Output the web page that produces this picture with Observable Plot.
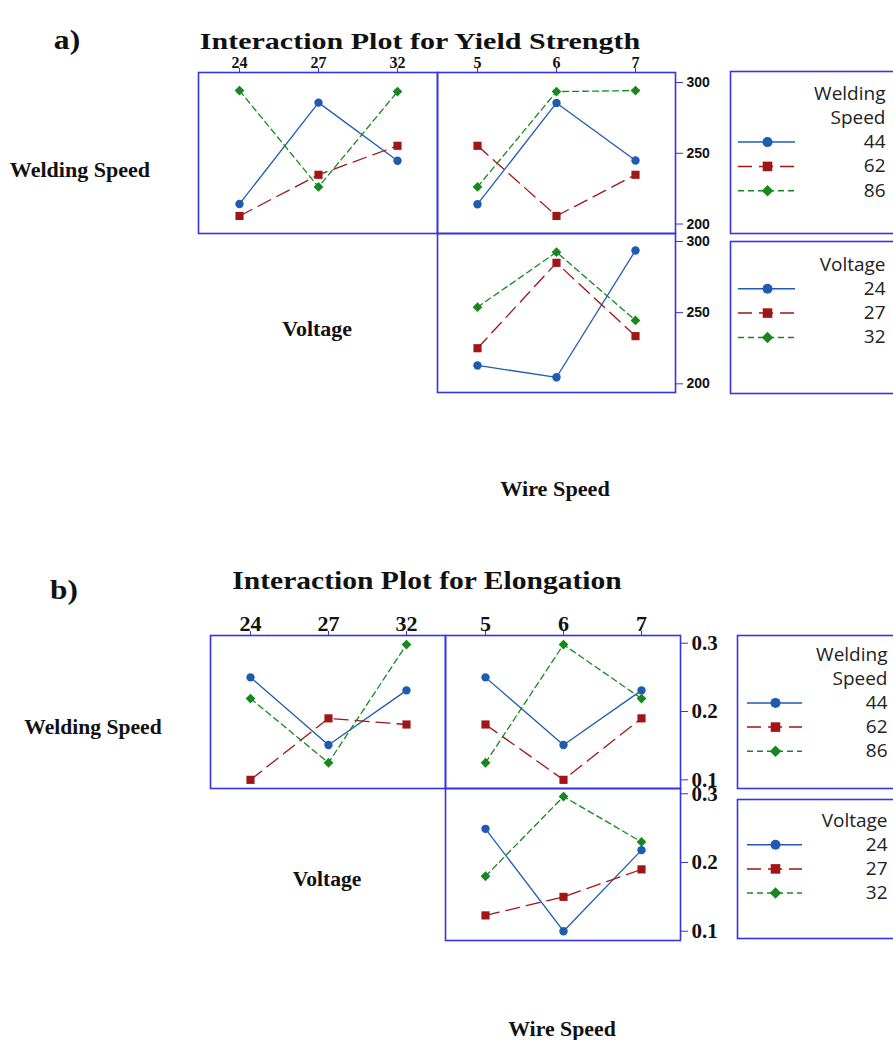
<!DOCTYPE html>
<html><head><meta charset="utf-8">
<script src="https://cdn.jsdelivr.net/npm/d3@7"></script>
<script src="https://cdn.jsdelivr.net/npm/@observablehq/plot@0.6"></script>
<style>
html,body{margin:0;padding:0;background:#fff;}
#root{position:relative;width:893px;height:1040px;overflow:hidden;background:#fff;}
.lbl{position:absolute;font-family:"Liberation Serif","Times New Roman",serif;font-weight:bold;color:#111;white-space:nowrap;line-height:1;}
svg{overflow:visible;}
</style></head><body><div id="root"></div>
<script>
// ---- factor levels ----
const voltageLevels = [24, 27, 32];
const wireSpeedLevels = [5, 6, 7];
const weldingSpeedLevels = [44, 62, 86];

// ---- (a) Yield strength: mean values ----
// Welding Speed series vs Voltage
const ysWeld44ByVolt = [214.2, 285.8, 244.7];
const ysWeld62ByVolt = [205.7, 234.8, 255.3];
const ysWeld86ByVolt = [294.3, 226.2, 293.6];
// Welding Speed series vs Wire Speed
const ysWeld44ByWire = [214.0, 285.6, 244.9];
const ysWeld62ByWire = [255.3, 205.7, 234.8];
const ysWeld86ByWire = [226.2, 293.6, 294.3];
// Voltage series vs Wire Speed
const ysVolt24ByWire = [212.9, 204.6, 293.7];
const ysVolt27ByWire = [225.0, 285.0, 233.5];
const ysVolt32ByWire = [253.8, 292.5, 244.5];
const ysTicks = [200, 250, 300];

// ---- (b) Elongation: mean values ----
const elWeld44ByVolt = [0.250, 0.151, 0.231];
const elWeld62ByVolt = [0.100, 0.190, 0.181];
const elWeld86ByVolt = [0.219, 0.125, 0.298];
const elWeld44ByWire = [0.250, 0.151, 0.231];
const elWeld62ByWire = [0.181, 0.100, 0.190];
const elWeld86ByWire = [0.125, 0.298, 0.219];
const elVolt24ByWire = [0.249, 0.100, 0.218];
const elVolt27ByWire = [0.123, 0.150, 0.190];
const elVolt32ByWire = [0.180, 0.296, 0.230];
const elTicks = [0.1, 0.2, 0.3];

// ---- styles ----
const FRAME = "#3535e6";
const seriesStyles = [
  {color: "#1f5cb0", dash: null, symbol: "circle", r: 4.2},
  {color: "#a01515", dash: "14,7", symbol: "square", r: 4.6},
  {color: "#17881f", dash: "6,4", symbol: "diamond2", r: 4.4}
];
const SERIF = "Liberation Serif, Times New Roman, serif";
const SANS = "Liberation Sans, Arial, sans-serif";

const root = document.getElementById("root");

function label(text, x, y, size, targetWidth) {
  const d = document.createElement("div");
  d.className = "lbl";
  d.textContent = text;
  d.style.left = x + "px"; d.style.top = y + "px"; d.style.fontSize = size + "px";
  root.append(d);
  const k = targetWidth ? targetWidth / d.offsetWidth : 1;
  d.style.transform = `translate(-50%,-50%) scaleX(${k})`;
}

function panel(o) {
  const mT = o.topAxis ? 40 : 2, mR = o.rightAxis ? 70 : 2, mL = 2, mB = 2;
  const marks = [Plot.frame({stroke: FRAME, strokeWidth: 1.6})];
  if (o.topAxis) marks.push(Plot.axisX({anchor: "top", tickSize: 5, tickPadding: 0, stroke: FRAME, fill: "#111",
    fontSize: o.topFont, fontFamily: SERIF, fontWeight: "bold", label: null}));
  if (o.rightAxis) marks.push(Plot.axisY({anchor: "right", ticks: o.yTicks, tickSize: 7, tickPadding: 4,
    tickFormat: o.yFormat, stroke: FRAME, fill: "#111", fontSize: o.rightFont, fontFamily: o.rightFamily,
    fontWeight: "bold", label: null}));
  o.series.forEach((vals, i) => {
    const st = seriesStyles[i];
    const d = vals.map((v, j) => ({x: o.xLevels[j], y: v}));
    marks.push(Plot.line(d, {x: "x", y: "y", stroke: st.color, strokeWidth: 1.3, strokeDasharray: st.dash}));
    marks.push(Plot.dot(d, {x: "x", y: "y", symbol: st.symbol, r: st.r, fill: st.color, stroke: "none"}));
  });
  const svg = Plot.plot({
    width: o.w + mL + mR, height: o.h + mT + mB,
    marginTop: mT, marginRight: mR, marginLeft: mL, marginBottom: mB,
    x: Object.assign({type: "point", domain: o.xLevels, padding: 0.5}, o.topAxis ? {} : {axis: null}),
    y: Object.assign({domain: o.yDomain}, o.rightAxis ? {} : {axis: null}),
    style: {background: "transparent", overflow: "visible"},
    marks
  });
  svg.style.position = "absolute";
  svg.style.left = (o.left - mL) + "px";
  svg.style.top = (o.top - mT) + "px";
  root.append(svg);
}

function legend(o) {
  const rows = [];
  o.titleLines.forEach((t, i) => rows.push({text: t, y: o.first + i * o.step, s: -1}));
  o.levels.forEach((lv, i) => rows.push({text: String(lv), y: o.first + (o.titleLines.length + i) * o.step, s: i}));
  const marks = [Plot.frame({stroke: FRAME, strokeWidth: 1.6})];
  marks.push(Plot.text(rows, {x: o.textX, y: "y", text: "text", textAnchor: "end", fontSize: o.fontSize,
    fontFamily: "Open Sans, Noto Sans, sans-serif", fill: "#222"}));
  rows.filter(r => r.s >= 0).forEach(r => {
    const st = seriesStyles[r.s];
    marks.push(Plot.ruleY([r], {y: "y", x1: o.lineX1, x2: o.lineX2, stroke: st.color, strokeWidth: 1.5, strokeDasharray: st.dash}));
    marks.push(Plot.dot([r], {x: o.markX, y: "y", symbol: st.symbol, r: st.r + 0.8, fill: st.color, stroke: "none"}));
  });
  const svg = Plot.plot({
    width: o.w, height: o.h, margin: 0,
    x: {domain: [0, o.w], range: [0, o.w], axis: null},
    y: {domain: [0, o.h], range: [0, o.h], axis: null},
    style: {background: "transparent", overflow: "visible"},
    marks
  });
  svg.style.position = "absolute";
  svg.style.left = o.left + "px";
  svg.style.top = o.top + "px";
  root.append(svg);
}

// ================= (a) =================
label("a)", 67, 40, 28, 26);
label("Interaction Plot for Yield Strength", 420, 41, 23, 440);
label("Welding Speed", 80, 170, 20, 140);
label("Voltage", 317, 329, 20, 70);
label("Wire Speed", 555, 489, 20, 110);

const ysDomTop = [193.3, 307.1];
const ysDomBot = [193.9, 305.6];
panel({left: 198, top: 72, w: 239, h: 161, xLevels: voltageLevels, yDomain: ysDomTop, topAxis: true, rightAxis: false,
  topFont: 16, series: [ysWeld44ByVolt, ysWeld62ByVolt, ysWeld86ByVolt]});
panel({left: 437, top: 72, w: 238, h: 161, xLevels: wireSpeedLevels, yDomain: ysDomTop, topAxis: true, rightAxis: true,
  topFont: 16, yTicks: ysTicks, yFormat: d3.format("d"), rightFont: 14, rightFamily: SANS,
  series: [ysWeld44ByWire, ysWeld62ByWire, ysWeld86ByWire]});
panel({left: 437, top: 233, w: 238, h: 159, xLevels: wireSpeedLevels, yDomain: ysDomBot, topAxis: false, rightAxis: true,
  yTicks: ysTicks, yFormat: d3.format("d"), rightFont: 14, rightFamily: SANS,
  series: [ysVolt24ByWire, ysVolt27ByWire, ysVolt32ByWire]});

legend({left: 730, top: 71, w: 200, h: 162, titleLines: ["Welding", "Speed"], levels: weldingSpeedLevels,
  first: 22, step: 24.3, textX: 155, lineX1: 8, lineX2: 65, markX: 37, fontSize: 19});
legend({left: 730, top: 241, w: 200, h: 152, titleLines: ["Voltage"], levels: voltageLevels,
  first: 23, step: 24.3, textX: 155, lineX1: 8, lineX2: 65, markX: 37, fontSize: 19});

// ================= (b) =================
label("b)", 64, 590, 28, 28);
label("Interaction Plot for Elongation", 427, 580, 25, 389);
label("Welding Speed", 93, 727, 20, 137);
label("Voltage", 327, 879, 20, 69);
label("Wire Speed", 562, 1029, 20, 108);

const elDomTop = [0.0873, 0.3113];
const elDomBot = [0.0865, 0.3077];
panel({left: 210, top: 635, w: 235, h: 153, xLevels: voltageLevels, yDomain: elDomTop, topAxis: true, rightAxis: false,
  topFont: 22, series: [elWeld44ByVolt, elWeld62ByVolt, elWeld86ByVolt]});
panel({left: 445, top: 635, w: 235, h: 153, xLevels: wireSpeedLevels, yDomain: elDomTop, topAxis: true, rightAxis: true,
  topFont: 22, yTicks: elTicks, yFormat: d3.format(".1f"), rightFont: 21, rightFamily: SERIF,
  series: [elWeld44ByWire, elWeld62ByWire, elWeld86ByWire]});
panel({left: 445, top: 788, w: 235, h: 152, xLevels: wireSpeedLevels, yDomain: elDomBot, topAxis: false, rightAxis: true,
  yTicks: elTicks, yFormat: d3.format(".1f"), rightFont: 21, rightFamily: SERIF,
  series: [elVolt24ByWire, elVolt27ByWire, elVolt32ByWire]});

legend({left: 737, top: 635, w: 200, h: 153, titleLines: ["Welding", "Speed"], levels: weldingSpeedLevels,
  first: 19, step: 24.2, textX: 150, lineX1: 10, lineX2: 65, markX: 38, fontSize: 19});
legend({left: 737, top: 799, w: 200, h: 139, titleLines: ["Voltage"], levels: voltageLevels,
  first: 21, step: 24.2, textX: 150, lineX1: 10, lineX2: 65, markX: 38, fontSize: 19});
</script></body></html>
